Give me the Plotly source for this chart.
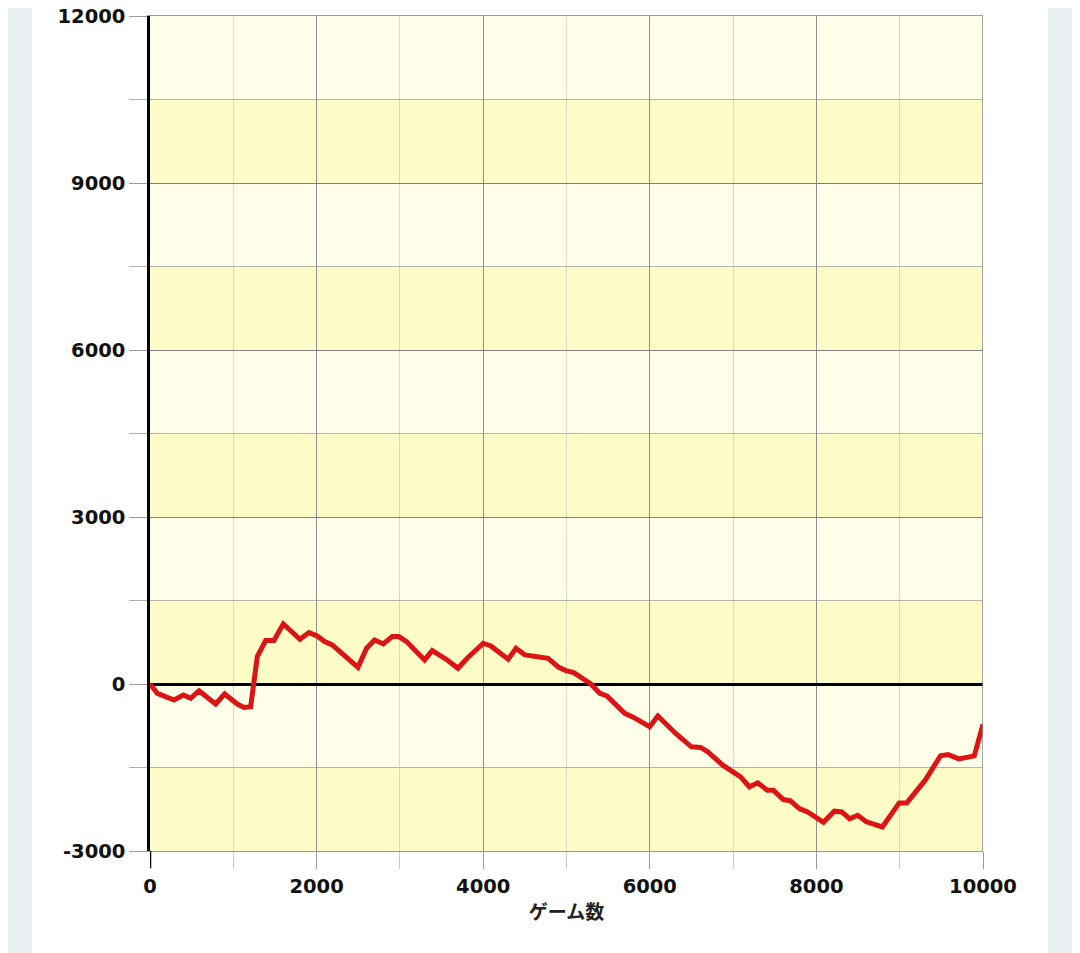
import plotly.graph_objects as go

games = [0, 88, 288, 400, 488, 588, 788, 896, 1048, 1128, 1208, 1288, 1388, 1488, 1600,
         1800, 1908, 2008, 2096, 2188, 2496, 2600, 2696, 2800, 2908, 2988, 3080, 3296,
         3388, 3568, 3696, 3808, 4000, 4092, 4300, 4394, 4500, 4779, 4907, 4993, 5087,
         5292, 5399, 5485, 5699, 5806, 5998, 6097, 6311, 6499, 6610, 6696, 6876, 7090,
         7196, 7295, 7410, 7483, 7603, 7689, 7795, 7894, 8085, 8215, 8305, 8398, 8495,
         8600, 8792, 8994, 9085, 9306, 9490, 9580, 9710, 9895, 10000]
diff = [0, -168, -288, -198, -258, -120, -360, -180, -360, -420, -408, 492, 780, 780, 1080,
        804, 924, 864, 762, 702, 300, 642, 792, 720, 852, 852, 762, 432,
        600, 432, 282, 462, 732, 684, 444, 642, 522, 462, 300, 240, 204,
        0, -168, -216, -528, -600, -768, -576, -888, -1128, -1140, -1218, -1458, -1668,
        -1848, -1776, -1908, -1908, -2076, -2100, -2238, -2298, -2485, -2285, -2298, -2420, -2358,
        -2475, -2568, -2136, -2136, -1728, -1290, -1268, -1345, -1292, -725]

x_ticks = [0, 2000, 4000, 6000, 8000, 10000]
y_ticks = [-3000, 0, 3000, 6000, 9000, 12000]
band_edges = [-3000, -1500, 0, 1500, 3000, 4500, 6000, 7500, 9000, 10500, 12000]

LIGHT = "#fefee9"
DARK = "#fdfbc6"

fig = go.Figure()
fig.add_trace(go.Scatter(x=games, y=diff, mode="lines",
                         line=dict(color="#dc1414", width=5),
                         hoverinfo="skip", showlegend=False))

shapes = []
# white card behind the chart (figure is placed 8px in from the page edge)
x_span = 833.0
shapes.append(dict(type="rect", xref="paper", yref="paper",
                   x0=(24 - 142) / x_span, x1=(1040 - 142) / x_span,
                   y0=-0.2, y1=1.1, fillcolor="white", line=dict(width=0), layer="below"))
# alternating bands
for i in range(len(band_edges) - 1):
    shapes.append(dict(type="rect", xref="x", yref="y", x0=0, x1=10000,
                       y0=band_edges[i], y1=band_edges[i + 1],
                       fillcolor=DARK if i % 2 == 0 else LIGHT,
                       line=dict(width=0), layer="below"))
# right border
shapes.append(dict(type="line", xref="x", yref="y", x0=10000, x1=10000,
                   y0=-3000, y1=12000, line=dict(color="#8a8a8a", width=1.5)))
# black extension of y axis below the plot
shapes.append(dict(type="line", xref="x", yref="paper", x0=0, x1=0,
                   y0=0, y1=-17 / 835.0, line=dict(color="black", width=2.5)))
fig.update_layout(shapes=shapes)

tick_font = dict(family="DejaVu Sans", size=19.5, color="#111111", weight="bold")

fig.update_xaxes(range=[0, 10000], tickvals=x_ticks, ticktext=[str(v) for v in x_ticks],
                 automargin=False, ticklabeloverflow="allow",
                 showgrid=True, gridcolor="#8f8f8f", gridwidth=1.2,
                 minor=dict(dtick=1000, tick0=0, showgrid=True, gridcolor="#d8d8c8",
                            ticks="outside", ticklen=17, tickcolor="#c8c8c8"),
                 ticks="outside", ticklen=17, tickcolor="#9a9a9a",
                 showline=True, linecolor="#9a9a9a", linewidth=1.2, mirror=True,
                 zeroline=False, tickfont=tick_font,
                 title=dict(text="ゲーム数", standoff=9,
                            font=dict(family="Noto Sans CJK JP", size=19,
                                      color="#222222", weight="bold")))
fig.update_yaxes(range=[-3000, 12000], tickvals=y_ticks, ticktext=[str(v) for v in y_ticks],
                 automargin=False, ticklabeloverflow="allow",
                 showgrid=True, gridcolor="#7f7f7f", gridwidth=1.2,
                 minor=dict(dtick=1500, tick0=0, showgrid=True, gridcolor="#b4b4a8",
                            ticks="outside", ticklen=18, tickcolor="#b0b0b0"),
                 ticks="outside", ticklen=18, tickcolor="#9a9a9a",
                 showline=True, linecolor="black", linewidth=2.5, mirror=False,
                 zeroline=True, zerolinecolor="black", zerolinewidth=2.5,
                 tickfont=tick_font)

fig.update_layout(width=1072, height=945,
                  margin=dict(l=142, r=97, t=8, b=102, autoexpand=False),
                  paper_bgcolor="#e8eff3", plot_bgcolor=LIGHT,
                  showlegend=False)

fig.write_html("out.html")
